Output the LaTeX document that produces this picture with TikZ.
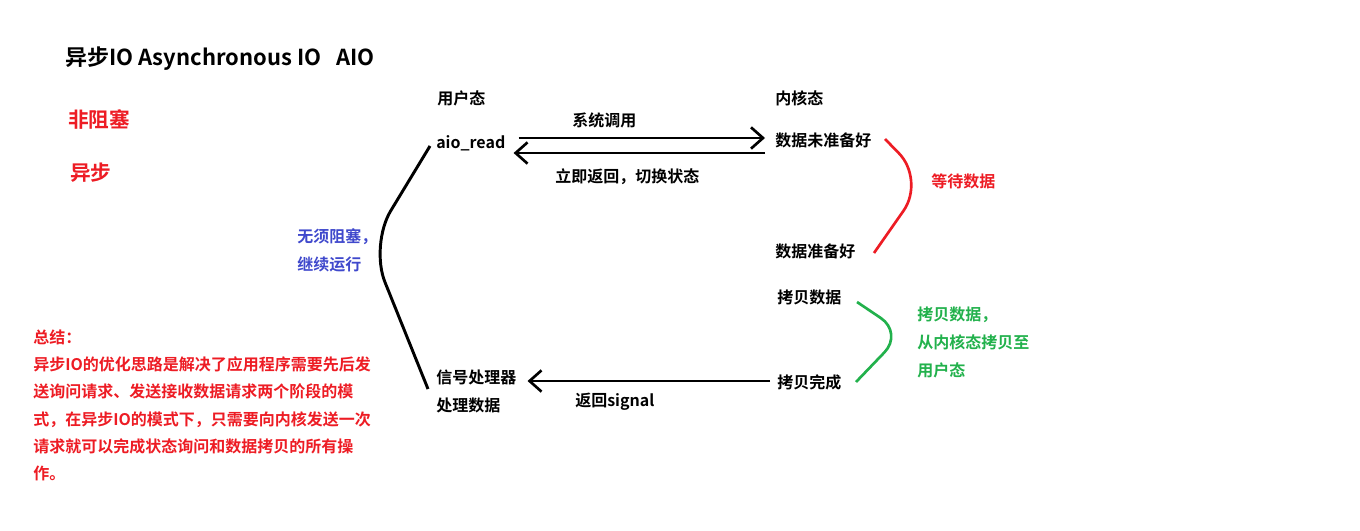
\documentclass[tikz,border=0pt]{standalone}
\usepackage{fontspec}
\setmainfont{Noto Sans CJK SC Bold}
\usetikzlibrary{arrows.meta,calc}
\definecolor{pred}{HTML}{ED1C24}
\definecolor{pgreen}{HTML}{22B14C}
\definecolor{pblue}{HTML}{3F48CC}
\tikzset{
  lbl/.style={anchor=west,inner sep=0pt,font=\fontsize{12pt}{14pt}\selectfont},
  big/.style={anchor=west,inner sep=0pt,font=\fontsize{15.5pt}{18pt}\selectfont},
  arr/.style={line width=2.2pt,-{Straight Barb[length=9pt,width=16pt,line width=2pt]}},
  brace/.style={line width=2pt,rounded corners=28pt},
}
\begin{document}
\begin{tikzpicture}[x=0.75pt,y=-0.75pt]
\useasboundingbox (0,0) rectangle (1360,531);
% titles
\node[big,font=\fontsize{16.5pt}{18pt}\selectfont] (title) at (65,59) {异步IO Asynchronous IO\hspace{11pt}AIO};
\node[big,text=pred] (fzs) at (68,120) {非阻塞};
\node[big,text=pred] (yb) at (70,173) {异步};
% user / kernel
\node[lbl] (user) at (437,98) {用户态};
\node[lbl] (aio) at (436,143) {aio\_read};
\node[lbl] (kern) at (775,98) {内核态};
\node[lbl] (d1) at (775,140) {数据未准备好};
\node[lbl] (d2) at (775,251) {数据准备好};
\node[lbl] (c1) at (777,297) {拷贝数据};
\node[lbl] (c2) at (777,382) {拷贝完成};
\node[lbl] (sig) at (436,377) {信号处理器};
\node[lbl] (proc) at (436,405) {处理数据};
\node[lbl] (call) at (572,120) {系统调用};
\node[lbl] (ret) at (555,177) {立即返回，切换状态};
\node[lbl] (rsig) at (575,402) {返回signal};
\node[lbl,text=pred] (wait) at (931,181) {等待数据};
\node[lbl,text=pgreen,align=left,font=\fontsize{12pt}{21pt}\selectfont] (copy) at (917,342) {拷贝数据，\\从内核态拷贝至\\用户态};
\node[lbl,text=pblue,align=left,font=\fontsize{12pt}{21pt}\selectfont] (nb) at (297,250) {无须阻塞，\\继续运行};
\node[lbl,text=pred,align=left,font=\fontsize{12pt}{20.5pt}\selectfont] (sum) at (33,405.5) {总结：\\异步IO的优化思路是解决了应用程序需要先后发\\送询问请求、发送接收数据请求两个阶段的模\\式，在异步IO的模式下，只需要向内核发送一次\\请求就可以完成状态询问和数据拷贝的所有操\\作。};
% arrows
\draw[arr] (aio.east |- 0,138) ++(13,0) -- ($(d1.west |- 0,138)+(-10,0)$);
\draw[arr] (d1.west |- 0,153) ++(-10,0) -- ($(aio.east |- 0,153)+(8,0)$);
\draw[arr] (c2.west |- 0,381) ++(-7,0) -- ($(sig.east |- 0,381)+(11,0)$);
% curves
\coordinate (k1) at (430,146);
\coordinate (k2) at (428,389);
\draw[line width=2.2pt,rounded corners=30pt] (k1) -- (370,245) -- (k2);
\coordinate (r1) at (885,139);
\coordinate (r2) at (874,253);
\draw[brace,pred] (r1) -- (925,180) -- (r2);
\coordinate (g1) at (857,302);
\coordinate (g2) at (856,382);
\draw[brace,pgreen,rounded corners=20pt] (g1) -- (903,333) -- (g2);
\end{tikzpicture}
\end{document}
